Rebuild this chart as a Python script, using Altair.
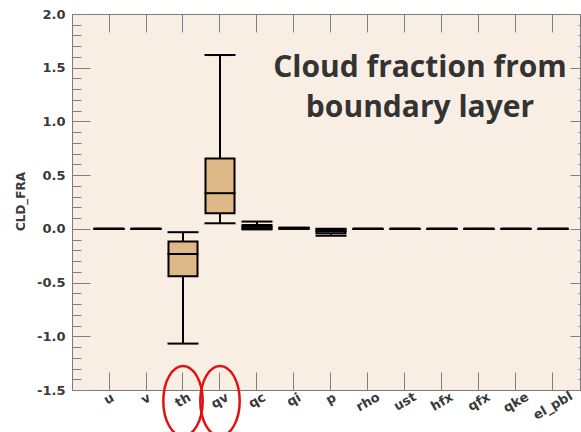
import altair as alt
import pandas as pd

# ---- data ----
categories = ["u", "v", "th", "qv", "qc", "qi", "p", "rho", "ust", "hfx", "qfx", "qke", "el_pbl"]
whisker_low = [0.0, 0.0, -1.068, 0.052, -0.005, 0.000, -0.065, 0.0, 0.0, 0.0, 0.0, 0.0, 0.0]
quart_low = [0.0, 0.0, -0.440, 0.145, 0.000, 0.003, -0.040, 0.0, 0.0, 0.0, 0.0, 0.0, 0.0]
median = [0.0, 0.0, -0.234, 0.332, 0.018, 0.005, -0.020, 0.0, 0.0, 0.0, 0.0, 0.0, 0.0]
quart_high = [0.0, 0.0, -0.118, 0.655, 0.035, 0.008, -0.005, 0.0, 0.0, 0.0, 0.0, 0.0, 0.0]
whisker_high = [0.0, 0.0, -0.031, 1.618, 0.068, 0.012, 0.000, 0.0, 0.0, 0.0, 0.0, 0.0, 0.0]
highlighted = ["th", "qv"]
title_lines = ["Cloud fraction from", "boundary layer"]
y_title = "CLD_FRA"
major_ticks = [-1.5, -1.0, -0.5, 0.0, 0.5, 1.0, 1.5, 2.0]
minor_ticks = [round(-1.5 + 0.1 * i, 1) for i in range(36)]

df = pd.DataFrame({
    "cat": categories,
    "lo": whisker_low,
    "q1": quart_low,
    "med": median,
    "q3": quart_high,
    "hi": whisker_high,
})

W, H = 508, 376
xscale = alt.Scale(domain=categories, paddingInner=0, paddingOuter=0.365, align=0.685)
yscale = alt.Scale(domain=[-1.5, 2.0], nice=False, zero=False)

FONT = "DejaVu Sans"
LAB = "#3a3a3a"
TICK = "#808080"
LABEL_SIZE = 13

# glyph advance widths (em) of DejaVu Sans Bold, used to lay rotated labels out
GLYPHS = "uvthqciprosfxkel_b"
GLYPH_W = [0.712, 0.652, 0.478, 0.712, 0.716, 0.593, 0.343, 0.716, 0.493,
           0.687, 0.595, 0.435, 0.645, 0.665, 0.678, 0.343, 0.5, 0.716]


def tick_axis(**kw):
    opts = dict(domain=False, grid=False, labels=False, ticks=True,
                tickColor=TICK, tickWidth=1, title=None)
    opts.update(kw)
    return alt.Axis(**opts)


base = alt.Chart(df)

whiskers = base.mark_rule(color="black", strokeWidth=2, opacity=1).encode(
    x=alt.X("cat:N", scale=xscale, axis=None),
    y=alt.Y("lo:Q", scale=yscale, axis=alt.Axis(
        orient="left", values=major_ticks, domain=False,
        labelExpr="datum.value < 0 ? '-' + format(-datum.value, '.1f') : format(datum.value, '.1f')",
        grid=False, ticks=False, tickSize=0, labelPadding=7, labelFont=FONT,
        labelFontWeight="bold", labelFontSize=13, labelColor=LAB,
        title=y_title, titleFont=FONT, titleFontWeight="bold",
        titleFontSize=12, titleColor=LAB, titleAngle=270, titleAlign="center",
        titleBaseline="middle", titleX=-52, titleY=187)),
    y2="hi:Q",
)

boxes = base.mark_bar(size=29, fill="#DEB887", stroke="black",
                      strokeWidth=2, opacity=1).encode(
    x=alt.X("cat:N", scale=xscale, axis=tick_axis(orient="top", offset=-H, tickSize=18)),
    y=alt.Y("q1:Q", scale=yscale,
            axis=tick_axis(orient="right", offset=-W, values=major_ticks, tickSize=18)),
    y2="q3:Q",
)

medians = base.mark_tick(size=31, thickness=2, color="black", opacity=1).encode(
    x=alt.X("cat:N", scale=xscale, axis=tick_axis(orient="bottom", offset=-H, tickSize=18)),
    y=alt.Y("med:Q", scale=yscale,
            axis=tick_axis(orient="right", offset=-W, values=minor_ticks, tickSize=9)),
)

caps_lo = base.mark_tick(size=31, thickness=2, color="black", opacity=1).encode(
    x=alt.X("cat:N", scale=xscale, axis=None),
    y=alt.Y("lo:Q", scale=yscale,
            axis=tick_axis(orient="left", offset=-W, values=major_ticks, tickSize=10)),
)

caps_hi = base.mark_tick(size=31, thickness=2, color="black", opacity=1).encode(
    x=alt.X("cat:N", scale=xscale, axis=None),
    y=alt.Y("hi:Q", scale=yscale,
            axis=tick_axis(orient="left", offset=-W, values=minor_ticks, tickSize=2)),
)

# rotated category labels, laid out glyph by glyph along a -30 degree baseline
width_expr = "[" + ",".join(str(v) for v in GLYPH_W) + "][indexof('" + GLYPHS + "', datum.ch)] * " + str(LABEL_SIZE)
xlabels = base.transform_calculate(
    chars="split(datum.cat, '')",
    idx="sequence(length(datum.cat))",
).transform_flatten(
    ["chars", "idx"], as_=["ch", "i"]
).transform_calculate(
    w=width_expr
).transform_window(
    cum="sum(w)", groupby=["cat"], sort=[alt.SortField("i")], frame=[None, 0]
).transform_joinaggregate(
    tot="sum(w)", groupby=["cat"]
).transform_calculate(
    s="datum.cum - datum.w / 2 - datum.tot / 2",
).transform_calculate(
    dx="bandwidth('x') / 2 + datum.s * cos(PI / 6)",
    py=str(H + 9) + " - datum.s * sin(PI / 6) + 0.2 * (datum.tot - 9)",
).mark_text(
    angle=330, align="center", baseline="middle", font=FONT,
    fontWeight="bold", fontSize=LABEL_SIZE, color=LAB,
).encode(
    x=alt.X("cat:N", scale=xscale, axis=None),
    xOffset=alt.XOffset("dx:Q", scale=None),
    y=alt.Y("py:Q", scale=None, axis=None),
    text="ch:N",
)

note = alt.Chart(pd.DataFrame({"k": [0]})).mark_text(
    text=title_lines, font="Open Sans", fontWeight="bold", fontSize=30,
    color="#333333", align="center", baseline="alphabetic", lineHeight=39.5,
).encode(x=alt.value(348), y=alt.value(63))

ELLIPSE = "M -0.563 0 A 0.563 1 0 1 1 0.563 0 A 0.563 1 0 1 1 -0.563 0 Z"
circles = alt.Chart(pd.DataFrame({"cat": highlighted})).mark_point(
    shape=ELLIPSE, size=4900, filled=False, stroke="#E31010",
    strokeWidth=2.5, opacity=1,
).encode(
    x=alt.X("cat:N", scale=xscale, axis=None),
    y=alt.value(387),
)

chart = alt.layer(whiskers, boxes, medians, caps_lo, caps_hi, xlabels, note, circles).resolve_axis(
    x="independent", y="independent"
).properties(
    width=W, height=H,
    padding={"left": 72, "top": 14, "right": 1, "bottom": 42},
    autosize=alt.AutoSizeParams(type="none"),
    background="white",
).configure_view(fill="#F9EEE4", stroke="#7a7a7a", strokeWidth=1)

chart.save("out.html", embed_options={"renderer": "svg", "actions": False})
